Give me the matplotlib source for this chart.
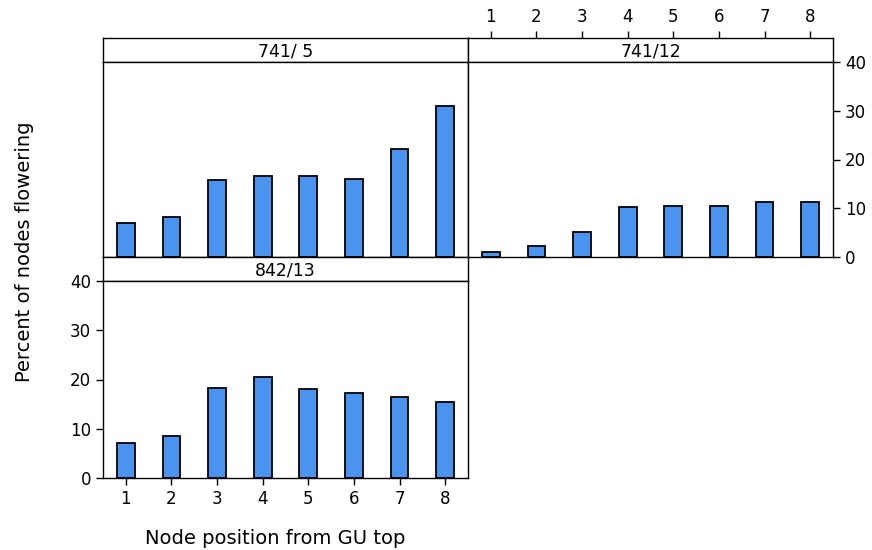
import matplotlib
matplotlib.use("Agg")
import matplotlib.pyplot as plt

positions = [1, 2, 3, 4, 5, 6, 7, 8]
panel_741_5 = [7.0, 8.3, 15.7, 16.6, 16.6, 16.0, 22.1, 31.0]
panel_741_12 = [1.0, 2.3, 5.2, 10.2, 10.5, 10.5, 11.2, 11.2]
panel_842_13 = [7.2, 8.5, 18.3, 20.6, 18.1, 17.2, 16.4, 15.5]
y_ticks = [0, 10, 20, 30, 40]

BAR_COLOR = "#4a94f0"
W, H = 872, 550
plt.rcParams["font.family"] = ["DejaVu Sans"]

fig = plt.figure(figsize=(W / 100, H / 100), dpi=100)


def fx(px):
    return px / W


def fy(px):
    return 1 - px / H


def panel(x0, x1, y_strip_top, y_strip_bot, y_bot, label, values):
    strip = fig.add_axes([fx(x0), fy(y_strip_bot), fx(x1 - x0), fy(y_strip_top) - fy(y_strip_bot)])
    strip.set_xticks([])
    strip.set_yticks([])
    for s in strip.spines.values():
        s.set_linewidth(1.0)
    strip.text(0.5, 0.45, label, ha="center", va="center", fontsize=12.5, transform=strip.transAxes)
    ax = fig.add_axes([fx(x0), fy(y_bot), fx(x1 - x0), fy(y_strip_bot) - fy(y_bot)])
    ax.bar(positions, values, width=0.39, color=BAR_COLOR, edgecolor="black", linewidth=1.3, zorder=2)
    ax.set_xlim(0.5, 8.5)
    ax.set_ylim(0, 40)
    for s in ax.spines.values():
        s.set_linewidth(1.0)
    ax.tick_params(length=5, width=1, labelsize=12, direction="out")
    return ax


ax1 = panel(103, 468, 38, 62, 257, "741/ 5", panel_741_5)
ax1.set_xticks([])
ax1.set_yticks([])

ax2 = panel(468, 833, 38, 62, 257, "741/12", panel_741_12)
ax2.set_yticks(y_ticks)
ax2.yaxis.tick_right()
ax2.set_xticks([])
# x ticks sit above the strip
ax2_top = fig.add_axes([fx(468), fy(257), fx(365), fy(38) - fy(257)], frameon=False)
ax2_top.set_xlim(0.5, 8.5)
ax2_top.set_xticks(positions)
ax2_top.xaxis.tick_top()
ax2_top.set_yticks([])
ax2_top.tick_params(length=5, width=1, labelsize=12)

ax3 = panel(103, 468, 257, 281, 478, "842/13", panel_842_13)
ax3.set_xticks(positions)
ax3.set_yticks(y_ticks)

fig.text(fx(275), fy(538), "Node position from GU top", ha="center", va="center", fontsize=14)
fig.text(fx(25), fy(252), "Percent of nodes flowering", ha="center", va="center", rotation=90, fontsize=14)

fig.savefig("out.png", dpi=100)
